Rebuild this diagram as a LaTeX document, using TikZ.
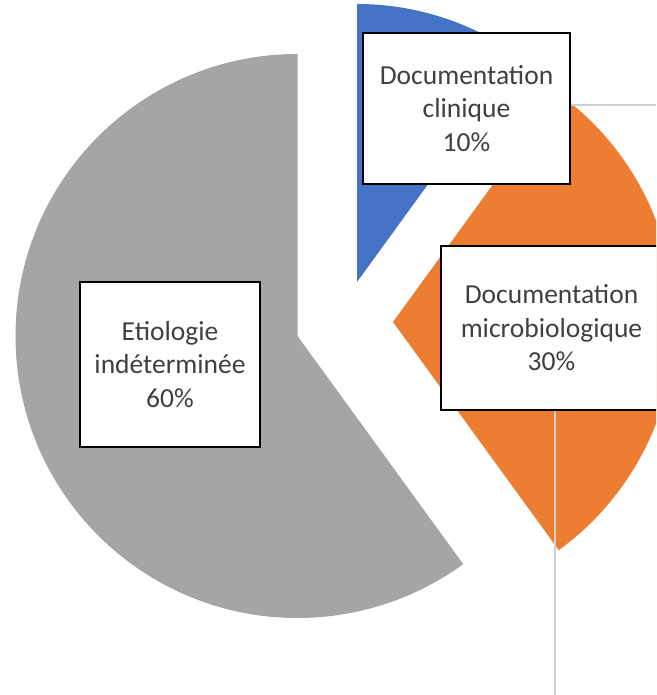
\documentclass[tikz,border=0pt]{standalone}
\usepackage{fontspec}
\setmainfont{Carlito}
\definecolor{pieblue}{HTML}{4472C4}
\definecolor{pieorange}{HTML}{ED7D31}
\definecolor{piegray}{HTML}{A5A5A5}
\definecolor{labeltext}{HTML}{404040}
\definecolor{leadergray}{HTML}{D0D0D0}
\tikzset{
    labelbox/.style={
        draw=black,
        line width=1.5pt,
        fill=white,
        align=center,
        inner sep=0pt,
        text=labeltext,
        font=\fontsize{27.5}{33.5}\selectfont
    },
    leaderline/.style={
        draw=leadergray,
        line width=2pt
    }
}

\begin{document}
\begin{tikzpicture}[x=1pt,y=1pt]
  \useasboundingbox (0,0) rectangle (656,695);
  \clip (0,0) rectangle (656,695);

  % Vertices of the exploded slices
  \coordinate (g) at (297.5,359);
  \coordinate (b) at (357,413);
  \coordinate (o) at (393,373);

  % Slices
  \fill[piegray] (g) -- ++(90:282) arc[start angle=90, end angle=306, radius=282] -- cycle;
  \fill[pieblue] (b) -- ++(90:278) arc[start angle=90, end angle=54, radius=278] -- cycle;
  \fill[pieorange] (o) -- ++(54:282) arc[start angle=54, end angle=-54, radius=282] -- cycle;

  % Data labels
  \node[labelbox, minimum width=207pt, minimum height=151pt] (clin) at (466.5,586.5) {Documentation\\clinique\\10\%};
  \node[labelbox, minimum width=221pt, minimum height=164pt] (micro) at (551.5,367) {Documentation\\microbiologique\\30\%};
  \node[labelbox, minimum width=180pt, minimum height=165pt] (etio) at (170,330.5) {Etiologie\\indéterminée\\60\%};

  % Leader lines
  \coordinate (clinEnd) at (656,590);
  \coordinate (microEnd) at (555,0);
  \draw[leaderline] (clin.east |- clinEnd) -- (clinEnd);
  \draw[leaderline] (micro.south -| microEnd) -- (microEnd);
\end{tikzpicture}
\end{document}
